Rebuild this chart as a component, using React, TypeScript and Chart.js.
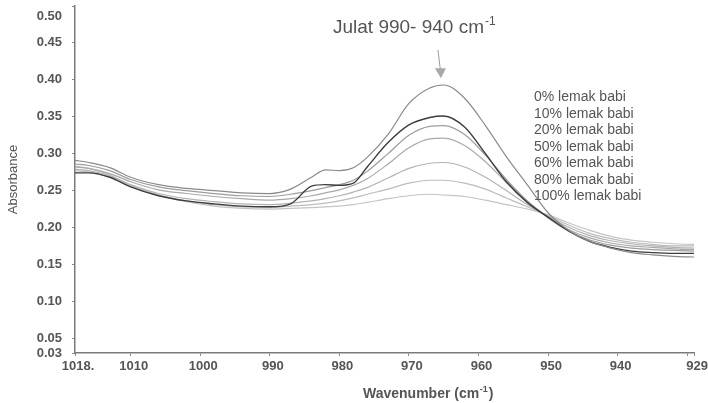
import React, { useEffect, useRef } from "react";
import { Chart, registerables } from "chart.js";

Chart.register(...registerables);

const wavenumbers = [1018, 1016, 1013, 1010, 1006, 1002, 998, 994, 990, 987, 984, 982, 980, 978, 976, 973, 970, 967, 965, 962, 959, 956, 953, 950, 947, 944, 941, 938, 935, 932, 929];

const lemak0 = [0.291, 0.288, 0.281, 0.268, 0.258, 0.253, 0.25, 0.247, 0.246, 0.252, 0.268, 0.278, 0.277, 0.281, 0.295, 0.326, 0.368, 0.389, 0.393, 0.375, 0.338, 0.296, 0.258, 0.22, 0.196, 0.181, 0.172, 0.166, 0.163, 0.161, 0.16];
const lemak10 = [0.274, 0.274, 0.268, 0.255, 0.243, 0.236, 0.232, 0.229, 0.228, 0.232, 0.256, 0.258, 0.257, 0.26, 0.282, 0.315, 0.339, 0.349, 0.351, 0.336, 0.3, 0.262, 0.234, 0.214, 0.195, 0.181, 0.173, 0.168, 0.166, 0.165, 0.165];
const lemak20 = [0.286, 0.284, 0.277, 0.265, 0.255, 0.25, 0.246, 0.243, 0.242, 0.245, 0.25, 0.254, 0.258, 0.264, 0.276, 0.3, 0.325, 0.337, 0.338, 0.326, 0.298, 0.265, 0.236, 0.213, 0.195, 0.183, 0.176, 0.172, 0.17, 0.169, 0.168];
const lemak50 = [0.282, 0.28, 0.273, 0.262, 0.251, 0.246, 0.242, 0.239, 0.237, 0.239, 0.243, 0.247, 0.251, 0.257, 0.266, 0.286, 0.308, 0.32, 0.321, 0.311, 0.289, 0.261, 0.236, 0.214, 0.197, 0.186, 0.179, 0.175, 0.173, 0.171, 0.17];
const lemak60 = [0.279, 0.277, 0.27, 0.258, 0.246, 0.239, 0.235, 0.232, 0.231, 0.233, 0.236, 0.239, 0.243, 0.248, 0.254, 0.267, 0.28, 0.287, 0.288, 0.282, 0.268, 0.25, 0.231, 0.215, 0.2, 0.189, 0.182, 0.178, 0.175, 0.173, 0.172];
const lemak80 = [0.277, 0.275, 0.268, 0.256, 0.244, 0.236, 0.231, 0.228, 0.227, 0.229, 0.231, 0.233, 0.236, 0.24, 0.245, 0.252, 0.26, 0.264, 0.264, 0.26, 0.252, 0.24, 0.228, 0.216, 0.203, 0.192, 0.185, 0.18, 0.177, 0.175, 0.175];
const lemak100 = [0.283, 0.28, 0.271, 0.257, 0.244, 0.235, 0.229, 0.226, 0.225, 0.226, 0.227, 0.228, 0.229, 0.231, 0.234, 0.239, 0.243, 0.245, 0.244, 0.242, 0.237, 0.231, 0.225, 0.217, 0.206, 0.196, 0.188, 0.183, 0.18, 0.178, 0.177];

const seriesLabels = ["0% lemak babi", "10% lemak babi", "20% lemak babi", "50% lemak babi", "60% lemak babi", "80% lemak babi", "100% lemak babi"];
const seriesValues = [lemak0, lemak10, lemak20, lemak50, lemak60, lemak80, lemak100];
const seriesColors = ["#8a8a8a", "#3c3c3c", "#9c9c9c", "#a9a9a9", "#b3b3b3", "#bcbcbc", "#c4c4c4"];

const yTickValues = [0.03, 0.05, 0.1, 0.15, 0.2, 0.25, 0.3, 0.35, 0.4, 0.45, 0.5];
const yTickLabels = ["0.03", "0.05", "0.10", "0.15", "0.20", "0.25", "0.30", "0.35", "0.40", "0.45", "0.50"];
const xTickValues = [1018, 1010, 1000, 990, 980, 970, 960, 950, 940, 930, 929];
const xTickLabels = ["1018.", "1010", "1000", "990", "980", "970", "960", "950", "940", "", "929"];

const annotationText = "Julat 990- 940 cm";
const peakWavenumber = 965.4;
const arrowTipValue = 0.402;
const xTitle = "Wavenumber (cm";

const FONT = '"Liberation Sans", Arial, sans-serif';

const overlayPlugin = {
  id: "overlay",
  afterDraw(chart: any) {
    const ctx = chart.ctx;
    const xs = chart.scales.x;
    const ys = chart.scales.y;
    ctx.save();

    // y tick labels
    ctx.fillStyle = "#555";
    ctx.font = `bold 13px ${FONT}`;
    ctx.textAlign = "right";
    ctx.textBaseline = "middle";
    yTickValues.forEach((v, i) => {
      const py = Math.max(ys.getPixelForValue(v), 16);
      ctx.fillText(yTickLabels[i], 62, py);
    });

    // annotation text
    ctx.fillStyle = "#555";
    ctx.textBaseline = "alphabetic";
    ctx.textAlign = "left";
    ctx.font = `19px ${FONT}`;
    ctx.fillText(annotationText, 333, 33);
    const w = ctx.measureText(annotationText).width;
    ctx.font = `12px ${FONT}`;
    ctx.fillText("-1", 333 + w + 1, 25);

    // arrow
    const ax = xs.getPixelForValue(peakWavenumber);
    const ay = ys.getPixelForValue(arrowTipValue);
    ctx.strokeStyle = "#9a9a9a";
    ctx.lineWidth = 1;
    ctx.beginPath();
    ctx.moveTo(ax - 3, 50);
    ctx.lineTo(ax - 0.5, ay - 8);
    ctx.stroke();
    ctx.fillStyle = "#a8a8a8";
    ctx.beginPath();
    ctx.moveTo(ax - 6, ay - 10);
    ctx.lineTo(ax + 5, ay - 10);
    ctx.lineTo(ax, ay);
    ctx.closePath();
    ctx.fill();

    // series labels
    ctx.fillStyle = "#555";
    ctx.font = `14px ${FONT}`;
    ctx.textBaseline = "middle";
    seriesLabels.forEach((t, i) => {
      ctx.fillText(t, 534, 97.5 + i * 16.5);
    });

    // x title
    ctx.fillStyle = "#555";
    ctx.textBaseline = "alphabetic";
    ctx.font = `bold 14px ${FONT}`;
    let tx = 363;
    ctx.fillText(xTitle, tx, 398);
    tx += ctx.measureText(xTitle).width;
    ctx.font = `bold 9px ${FONT}`;
    ctx.fillText("-1", tx + 0.5, 392);
    tx += ctx.measureText("-1").width + 1.5;
    ctx.font = `bold 14px ${FONT}`;
    ctx.fillText(")", tx, 398);
    ctx.restore();
  },
};

export default function App() {
  const ref = useRef<HTMLCanvasElement | null>(null);
  useEffect(() => {
    if (!ref.current) return;
    const chart = new Chart(ref.current, {
      type: "line",
      data: {
        datasets: seriesValues.map((vals, i) => ({
          label: seriesLabels[i],
          data: wavenumbers.map((w, j) => ({ x: w, y: vals[j] })),
          borderColor: seriesColors[i],
          borderWidth: i === 1 ? 1.4 : 1.2,
          pointRadius: 0,
          fill: false,
          cubicInterpolationMode: "monotone" as const,
        })),
      },
      options: {
        animation: false,
        responsive: false,
        layout: { padding: { left: 0, right: 13, top: 6, bottom: 0 } },
        plugins: { legend: { display: false }, tooltip: { enabled: false }, title: { display: false } },
        scales: {
          x: {
            type: "linear",
            reverse: true,
            min: 929,
            max: 1018,
            afterFit: (s: any) => { s.height = 50; },
            afterBuildTicks: (s: any) => { s.ticks = xTickValues.map((v) => ({ value: v })); },
            grid: { display: true, drawOnChartArea: false, drawTicks: true, tickLength: 3, color: "#888" },
            border: { display: true, color: "#7a7a7a", width: 1.5 },
            ticks: {
              autoSkip: false,
              maxRotation: 0,
              padding: 3,
              labelOffset: 3,
              color: "#555",
              font: { family: FONT, size: 13, weight: "bold" },
              callback: (v: any) => {
                const idx = xTickValues.indexOf(Number(v));
                return idx >= 0 ? xTickLabels[idx] : "";
              },
            },
          },
          y: {
            type: "linear",
            min: 0.03,
            max: 0.5,
            afterFit: (s: any) => {
              s.width = 75;
              s.paddingTop = 0;
              s.paddingBottom = 0;
            },
            afterBuildTicks: (s: any) => { s.ticks = yTickValues.map((v) => ({ value: v })); },
            grid: { display: true, drawOnChartArea: false, drawTicks: true, tickLength: 3, color: "#888" },
            border: { display: true, color: "#7a7a7a", width: 1.5 },
            title: {
              display: true,
              text: "Absorbance",
              color: "#555",
              font: { family: FONT, size: 13 },
              padding: { top: 6, bottom: 0 },
            },
            ticks: {
              display: false,
            },
          },
        },
      },
      plugins: [overlayPlugin],
    });
    return () => chart.destroy();
  }, []);
  return (
    <div style={{ position: "absolute", left: 0, top: 0, width: 708, height: 403, background: "#fff" }}>
      <canvas ref={ref} width={708} height={403} style={{ display: "block" }} />
    </div>
  );
}
